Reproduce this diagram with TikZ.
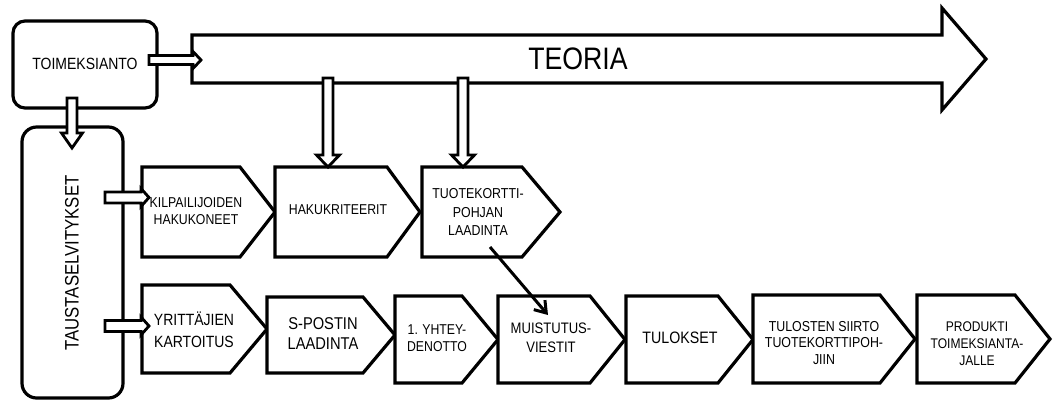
\documentclass[tikz,border=0pt]{standalone}
\usepackage{fontspec}
\setmainfont{Liberation Sans}[FakeStretch=0.86]
\usetikzlibrary{arrows.meta}
% pentagon ("home plate") shape: name, left, top, bottom, corner x, tip x
\newcommand\pentshape[6]{%
  \draw[shp] (#2,#3) coordinate (#1-nw) -- (#5,#3) -- (#6,{(#3+#4)/2}) coordinate (#1-tip)
    -- (#5,#4) -- (#2,#4) coordinate (#1-sw) -- cycle;}
% hollow horizontal block arrow: x start, x tip, y, shaft half, head half, head length
\newcommand\hblock[6]{%
  \draw[blk] (#1,#3-#4) -- (#2-#6,#3-#4) -- (#2-#6,#3-#5) -- (#2,#3)
    -- (#2-#6,#3+#5) -- (#2-#6,#3+#4) -- (#1,#3+#4) -- cycle;}
% hollow vertical block arrow: y start, y tip, x, shaft half, head half, head length
\newcommand\vblock[6]{%
  \draw[blk] (#3-#4,#1) -- (#3-#4,#2-#6) -- (#3-#5,#2-#6) -- (#3,#2)
    -- (#3+#5,#2-#6) -- (#3+#4,#2-#6) -- (#3+#4,#1) -- cycle;}
\begin{document}
\begin{tikzpicture}[x=0.75pt,y=-0.75pt,
  shp/.style={draw=black, line width=2.4pt, fill=white, line join=miter},
  blk/.style={draw=black, line width=2.1pt, fill=white, line join=miter},
  lbl/.style={align=center, inner sep=0pt},
  fa/.style={lbl, font=\fontsize{10.7}{12.75}\selectfont},
  fb/.style={lbl, font=\fontsize{12.4}{16}\selectfont},
  fc/.style={lbl, font=\fontsize{10.8}{12.6}\selectfont}]
\useasboundingbox (0,0) rectangle (1053,401);

% TEORIA big arrow
\draw[shp] (192,35) -- (942,35) -- (942,8) -- (986,59) -- (942,110) -- (942,83) -- (192,83) -- cycle;
\node[lbl, font=\fontsize{23.3}{26}\selectfont] (teoria) at (578,59) {TEORIA};

% rounded boxes
\draw[shp, rounded corners=9pt] (13,21) rectangle (157,108);
\node[lbl, font=\fontsize{12.2}{14}\selectfont] (toim) at (85,64) {TOIMEKSIANTO};
\draw[shp, rounded corners=11pt] (22,127) rectangle (123,398);
\node[lbl, rotate=90, font=\fontsize{14.6}{17}\selectfont] (tausta) at (72,263) {TAUSTASELVITYKSET};

% top row
\pentshape{kilp}{142}{167}{257}{240}{275}
\pentshape{haku}{275}{167}{257}{387}{420}
\pentshape{tuote}{422}{167}{257}{522}{560}
\node[fa] (kilpt) at (196,211) {KILPAILIJOIDEN\\HAKUKONEET};
\node[fa] (hakut) at (338,210) {HAKUKRITEERIT};
\node[lbl, font=\fontsize{10.8}{14}\selectfont] (tuotet) at (478,212) {TUOTEKORTTI-\\POHJAN\\LAADINTA};

% bottom row
\pentshape{yrit}{142}{285}{373}{230}{267}
\pentshape{spost}{267}{297}{373}{363}{395}
\pentshape{yht}{395}{296}{383}{462}{498}
\pentshape{muist}{498}{296}{383}{590}{625}
\pentshape{tulok}{626}{296}{383}{718}{753}
\pentshape{tulost}{753}{295}{383}{880}{915}
\pentshape{prod}{917}{295}{383}{1015}{1050}
\node[lbl, font=\fontsize{12.2}{16.5}\selectfont] (yritt) at (194,330) {YRITTÄJIEN\\KARTOITUS};
\node[lbl, font=\fontsize{12.8}{15}\selectfont] (spostt) at (323,334) {S-POSTIN\\LAADINTA};
\node[fa] (yhtt) at (437,338) {1. YHTEY-\\DENOTTO};
\node[lbl, font=\fontsize{11.4}{14}\selectfont] (muistt) at (551,338) {MUISTUTUS-\\VIESTIT};
\node[fb] (tulokt) at (680,338) {TULOKSET};
\node[fc] (tulostt) at (824,343) {TULOSTEN SIIRTO\\TUOTEKORTTIPOH-\\JIIN};
\node[lbl, font=\fontsize{10.5}{12.75}\selectfont] (prodt) at (977,344) {PRODUKTI\\TOIMEKSIANTA-\\JALLE};

% hollow block arrows
\hblock{149}{201}{60}{4.5}{8.5}{8}
\vblock{98}{148}{72}{5}{10.5}{15}
\hblock{105}{149}{197.5}{5.5}{9}{8}
\hblock{105}{149}{326}{5.5}{9}{8}
\vblock{78}{167}{328}{5}{11.5}{12}
\vblock{78}{167}{463}{5}{11.5}{12}

% diagonal arrow
\coordinate (dA) at (490,247);
\coordinate (dB) at (548,315);
\draw[line width=2.25pt, -{Straight Barb[length=8pt,width=11pt]}] (dA) -- (dB);
\end{tikzpicture}
\end{document}
